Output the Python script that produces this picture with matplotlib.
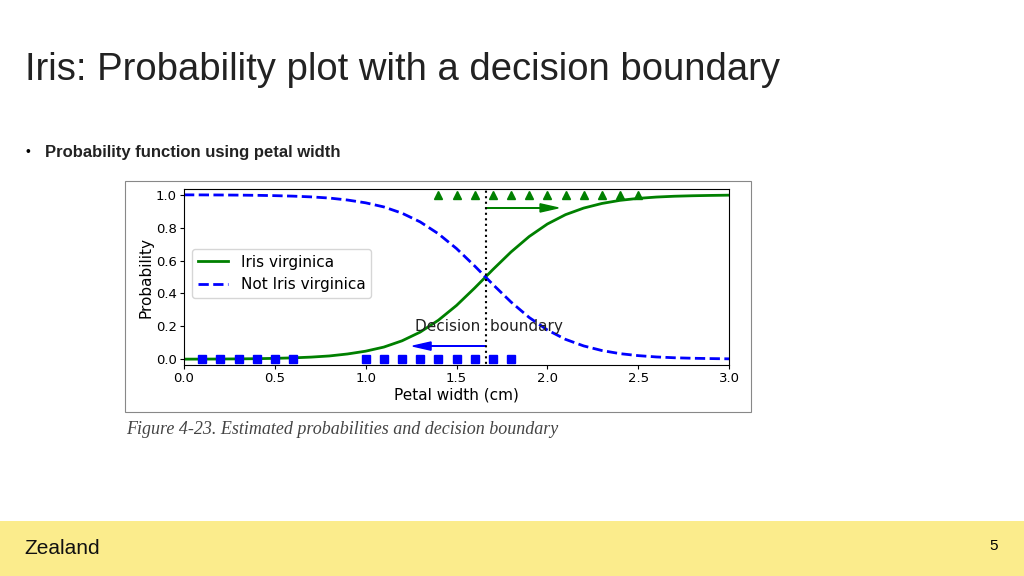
import matplotlib
matplotlib.use("Agg")
import matplotlib.pyplot as plt
from matplotlib.patches import Rectangle

x_vals = [0.0,0.1,0.2,0.3,0.4,0.5,0.6,0.7,0.8,0.9,1.0,1.1,1.2,1.3,1.4,1.5,1.6,1.7,1.8,1.9,2.0,
          2.1,2.2,2.3,2.4,2.5,2.6,2.7,2.8,2.9,3.0]
p_virginica = [0.0006,0.0009,0.0014,0.0022,0.0034,0.0054,0.0084,0.013,0.020,0.032,0.049,0.074,
               0.112,0.165,0.237,0.327,0.433,0.545,0.652,0.746,0.822,0.879,0.919,0.947,0.966,
               0.978,0.986,0.991,0.994,0.996,0.9975]
p_not = [1 - p for p in p_virginica]
neg_x = [0.1,0.2,0.3,0.4,0.5,0.6,1.0,1.1,1.2,1.3,1.4,1.5,1.6,1.7,1.8]
pos_x = [1.4,1.5,1.6,1.7,1.8,1.9,2.0,2.1,2.2,2.3,2.4,2.5]
boundary = 1.66

W, H = 1024, 576
fig = plt.figure(figsize=(W/100, H/100), dpi=100)
fig.patch.set_facecolor("white")

def fx(px): return px / W
def fy(py): return 1 - py / H

fig.text(fx(25), fy(70), "Iris: Probability plot with a decision boundary", fontsize=27.5,
         family="Liberation Sans", va="center", color="#222222")
fig.text(fx(25), fy(152), "•", fontsize=10, family="Liberation Sans", va="center")
fig.text(fx(45), fy(152), "Probability function using petal width", fontsize=12,
         family="Liberation Sans", weight="bold", va="center", color="#222222")

fig.patches.append(Rectangle((fx(125), fy(412)), (751-125)/W, (412-181)/H, transform=fig.transFigure,
                             fill=False, edgecolor="#888888", lw=0.8))
fig.text(fx(126), fy(429), "Figure 4-23. Estimated probabilities and decision boundary",
         fontsize=13, family="Liberation Serif", style="italic", va="center", color="#444444")

fig.patches.append(Rectangle((0, 0), 1, (576-521)/H, transform=fig.transFigure,
                             color="#FBEC8C", lw=0))
fig.text(fx(24), fy(548), "Zealand", fontsize=15, family="Liberation Sans", va="center", color="#111111")
fig.text(fx(994), fy(546), "5", fontsize=11, family="Liberation Sans", va="center", ha="center")

ax = fig.add_axes([fx(184), fy(365), (729-184)/W, (365-189)/H])
ax.set_xlim(0, 3)
ax.set_ylim(-0.035, 1.035)
ax.plot(x_vals, p_virginica, "g-", lw=2, label="Iris virginica")
ax.plot(x_vals, p_not, "b--", lw=2, label="Not Iris virginica")
ax.plot(neg_x, [0]*len(neg_x), "bs", ms=6)
ax.plot(pos_x, [1]*len(pos_x), "g^", ms=6)
ax.plot([boundary, boundary], [-1, 2], "k:", lw=1.5)
ax.text(boundary + 0.02, 0.17, "Decision  boundary", fontsize=11, ha="center", color="#222222")
ax.arrow(boundary, 0.08, -0.3, 0, head_width=0.05, head_length=0.1, fc="b", ec="b")
ax.arrow(boundary, 0.92, 0.3, 0, head_width=0.05, head_length=0.1, fc="g", ec="g")
ax.set_xlabel("Petal width (cm)", fontsize=11, labelpad=2)
ax.set_ylabel("Probability", fontsize=11, labelpad=2)
ax.set_xticks([0,0.5,1,1.5,2,2.5,3])
ax.set_yticks([0,0.2,0.4,0.6,0.8,1.0])
ax.tick_params(labelsize=9.5, length=3, pad=2)
ax.legend(loc="center left", fontsize=11, bbox_to_anchor=(0.0, 0.52))

fig.savefig("out.png", dpi=100)
